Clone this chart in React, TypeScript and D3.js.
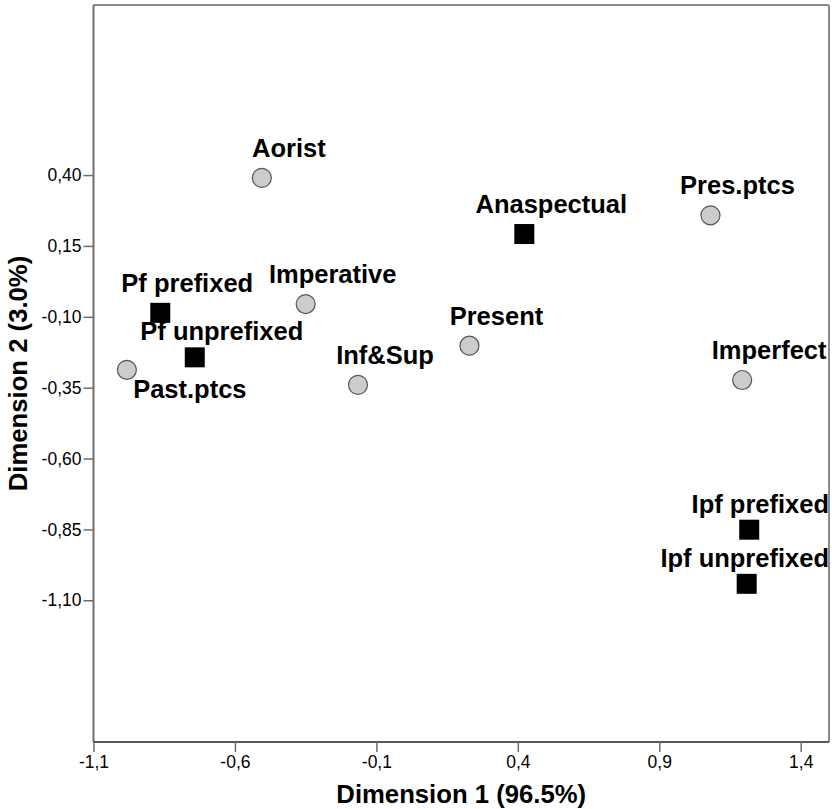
import React, { useEffect, useRef } from "react";
import * as d3 from "d3";

// ---- Data ----
const pointNames = [
  "Aorist", "Anaspectual", "Pres.ptcs", "Pf prefixed", "Imperative", "Pf unprefixed",
  "Past.ptcs", "Inf&Sup", "Present", "Imperfect", "Ipf prefixed", "Ipf unprefixed",
];
const dim1 = [-0.505, 0.423, 1.081, -0.864, -0.350, -0.742, -0.982, -0.165, 0.229, 1.193, 1.218, 1.209];
const dim2 = [0.390, 0.192, 0.258, -0.086, -0.055, -0.243, -0.287, -0.340, -0.202, -0.323, -0.851, -1.042];
// "square" = aspect categories, "circle" = verb forms
const pointKind = ["circle", "square", "circle", "square", "circle", "square", "circle", "circle", "circle", "circle", "square", "square"];

const xTicks = [-1.1, -0.6, -0.1, 0.4, 0.9, 1.4];
const yTicks = [0.4, 0.15, -0.1, -0.35, -0.6, -0.85, -1.1];
const xDomain = [-1.1, 1.5];
const yDomain = [-1.6, 1.0];
const xTitle = "Dimension 1 (96.5%)";
const yTitle = "Dimension 2 (3.0%)";
const labelsBelow = ["Past.ptcs"];
const labelsLowered = ["Pf unprefixed", "Ipf prefixed", "Ipf unprefixed"];

const W = 832, H = 809;
const plot = { left: 93.5, right: 829, top: 5, bottom: 742 };
const FONT = "'Liberation Sans', Arial, Helvetica, sans-serif";

const fmtX = (v: number) => d3.format(".1f")(v).replace(".", ",").replace("−", "-");
const fmtY = (v: number) => d3.format(".2f")(v).replace(".", ",").replace("−", "-");

export default function App() {
  const ref = useRef<SVGSVGElement>(null);

  useEffect(() => {
    const svg = d3.select(ref.current);
    svg.selectAll("*").remove();

    const x = d3.scaleLinear().domain(xDomain).range([plot.left, plot.right]);
    const y = d3.scaleLinear().domain(yDomain).range([plot.bottom, plot.top]);

    svg.append("rect").attr("width", W).attr("height", H).attr("fill", "#fff");

    // frame
    svg.append("line").attr("x1", plot.left).attr("x2", plot.right).attr("y1", plot.top).attr("y2", plot.top)
      .attr("stroke", "#8a8a8a").attr("stroke-width", 2);
    svg.append("line").attr("x1", plot.right).attr("x2", plot.right).attr("y1", plot.top).attr("y2", plot.bottom)
      .attr("stroke", "#8a8a8a").attr("stroke-width", 2);

    // y axis
    const yAxis = d3.axisLeft(y).tickValues(yTicks).tickFormat((d) => fmtY(d as number)).tickSize(10).tickPadding(2);
    const gy = svg.append("g").attr("transform", `translate(${plot.left},0)`).call(yAxis);
    gy.select(".domain").attr("stroke", "#6e6e6e").attr("stroke-width", 2).attr("d", `M0,${plot.top}V${plot.bottom}`);
    gy.selectAll(".tick line").attr("stroke", "#6e6e6e").attr("stroke-width", 1.5);
    gy.selectAll(".tick text").attr("font-family", FONT).attr("font-size", 17.5).attr("fill", "#000");

    // x axis
    const xAxis = d3.axisBottom(x).tickValues(xTicks).tickFormat((d) => fmtX(d as number)).tickSize(10).tickPadding(4);
    const gx = svg.append("g").attr("transform", `translate(0,${plot.bottom})`).call(xAxis);
    gx.select(".domain").attr("stroke", "#222").attr("stroke-width", 1.5).attr("d", `M${plot.left},0H${plot.right}`);
    gx.selectAll(".tick line").attr("stroke", "#6e6e6e").attr("stroke-width", 1.5);
    gx.selectAll(".tick text").attr("font-family", FONT).attr("font-size", 17.5).attr("fill", "#000");

    // titles
    svg.append("text").attr("x", (plot.left + plot.right) / 2).attr("y", 803).attr("text-anchor", "middle")
      .attr("font-family", FONT).attr("font-weight", "bold").attr("font-size", 25.7).text(xTitle);
    svg.append("text").attr("transform", `translate(27,${(plot.top + plot.bottom) / 2}) rotate(-90)`)
      .attr("text-anchor", "middle").attr("font-family", FONT).attr("font-weight", "bold").attr("font-size", 25.7).text(yTitle);

    const data = pointNames.map((name, i) => ({ name, x: dim1[i], y: dim2[i], kind: pointKind[i] }));

    const g = svg.append("g");
    data.forEach((d) => {
      const cx = x(d.x), cy = y(d.y);
      if (d.kind === "circle") {
        g.append("circle").attr("cx", cx).attr("cy", cy).attr("r", 9.5)
          .attr("fill", "#cccccc").attr("stroke", "#555").attr("stroke-width", 1.2);
      } else {
        g.append("rect").attr("x", cx - 10).attr("y", cy - 10).attr("width", 20).attr("height", 20).attr("fill", "#000");
      }
      const below = labelsBelow.includes(d.name);
      const lowered = labelsLowered.includes(d.name);
      const cxText = below ? cx + 63 : cx + 27;
      const t = g.append("text")
        .attr("font-family", FONT).attr("font-weight", "bold").attr("font-size", 25.5).attr("fill", "#000")
        .attr("text-anchor", "middle")
        .attr("x", cxText)
        .attr("y", below ? cy + 28 : cy - (lowered ? 17 : 21))
        .text(d.name);
      const node = t.node() as SVGTextElement;
      const w = node.getComputedTextLength();
      if (cxText + w / 2 > plot.right) {
        t.attr("text-anchor", "end").attr("x", plot.right);
      }
    });
  }, []);

  return (
    <svg ref={ref} width={W} height={H}
      style={{ position: "absolute", left: 0, top: 0, display: "block" }} />
  );
}
